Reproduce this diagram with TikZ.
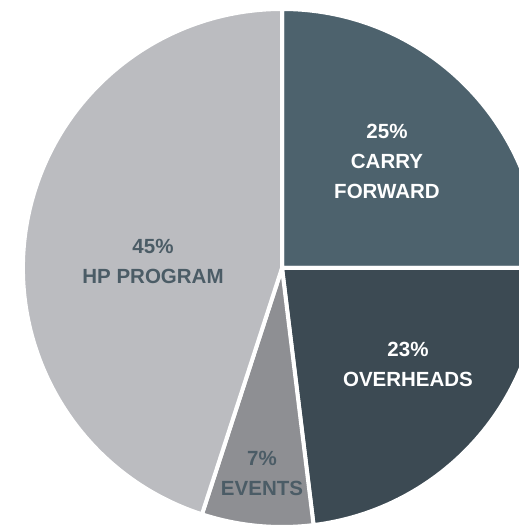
\documentclass[tikz,border=0pt]{standalone}
\usepackage{fontspec}
\setmainfont{Liberation Sans}
\definecolor{carrycol}{HTML}{4D626D}
\definecolor{overcol}{HTML}{3C4A53}
\definecolor{eventcol}{HTML}{8E8F93}
\definecolor{hpcol}{HTML}{BBBCC0}
\definecolor{darktext}{HTML}{4B5C66}
\tikzset{
  slice/.style={draw=white, line width=4pt, line join=miter},
  lightlabel/.style={text=white, font=\bfseries\fontsize{20.5}{30}\selectfont, align=center},
  darklabel/.style={text=darktext, font=\bfseries\fontsize{20.5}{30}\selectfont, align=center}
}
\begin{document}
\begin{tikzpicture}[x=1pt,y=1pt]
        \useasboundingbox (0,0) rectangle (519,525);
        \clip (0,0) rectangle (519,525);
        \coordinate (c) at (282,257);

        \draw[slice, fill=carrycol] (c) -- ++(90:259) arc (90:0:259) -- cycle;
        \draw[slice, fill=overcol] (c) -- ++(0:259) arc (0:-83:259) -- cycle;
        \draw[slice, fill=eventcol] (c) -- ++(-83:259) arc (-83:-108:259) -- cycle;
        \draw[slice, fill=hpcol] (c) -- ++(-108:259) arc (-108:-270:259) -- cycle;

        \node[lightlabel] (carry) at (387,364) {25\%\\CARRY\\FORWARD};
        \node[lightlabel] (over) at (408,161) {23\%\\OVERHEADS};
        \node[darklabel] (events) at (262,52) {7\%\\EVENTS};
        \node[darklabel] (hp) at (153,264) {45\%\\HP PROGRAM};
\end{tikzpicture}
\end{document}
